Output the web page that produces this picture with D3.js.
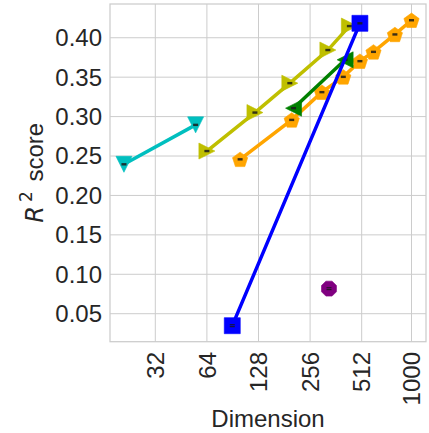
<!DOCTYPE html>
<html>
<head>
<meta charset="utf-8">
<script src="https://cdn.jsdelivr.net/npm/d3@7.9.0/dist/d3.min.js"></script>
<style>
  body { margin: 0; background: #fff; }
  svg { display: block; font-family: "Liberation Sans", Arial, sans-serif; }
</style>
</head>
<body>
<svg id="chart" width="429" height="433"></svg>
<script>
// x ticks (dimension, log2 axis)
const xTicks = [32, 64, 128, 256, 512, 1000];
const yTicks = [0.05, 0.10, 0.15, 0.20, 0.25, 0.30, 0.35, 0.40];

// one array pair per series
const cyanDims = [21, 55];
const cyanR2 = [0.2395, 0.2895];

const yellowDims = [64, 122, 195, 325, 434];
const yellowR2 = [0.2563, 0.3051, 0.3424, 0.3844, 0.4148];

const orangeDims = [100, 200, 300, 400, 500, 600, 800, 1000];
const orangeR2 = [0.2458, 0.2958, 0.331, 0.3504, 0.3703, 0.3821, 0.4042, 0.4222];

const greenDims = [205, 410];
const greenR2 = [0.3107, 0.372];

const blueDims = [90, 500];
const blueR2 = [0.0348, 0.4183];
const blueErr = [0.0012, 0];

const purpleDims = [330];
const purpleR2 = [0.0818];
const purpleErr = [0.0012];

const series = [
  { dims: orangeDims, r2: orangeR2, color: "#ffa500", marker: "pentagon" },
  { dims: yellowDims, r2: yellowR2, color: "#bfbf00", marker: "triRight" },
  { dims: greenDims, r2: greenR2, color: "#008000", marker: "triLeft" },
  { dims: cyanDims, r2: cyanR2, color: "#00bfbf", marker: "triDown" },
  { dims: blueDims, r2: blueR2, err: blueErr, color: "#0000ff", marker: "square" },
  { dims: purpleDims, r2: purpleR2, err: purpleErr, color: "#800080", marker: "octagon" }
];

const plotL = 110, plotR = 426, plotT = 4, plotB = 341.7;

const x = d3.scaleLog().base(2).domain([17.41, 1215]).range([plotL, plotR]);
const y = d3.scaleLinear().domain([0.0145, 0.4428]).range([plotB, plotT]);

const svg = d3.select("#chart");

// grid
const grid = svg.append("g").attr("stroke", "#cccccc").attr("stroke-width", 1);
xTicks.forEach(t => {
  grid.append("line").attr("x1", x(t)).attr("x2", x(t)).attr("y1", plotT).attr("y2", plotB);
});
yTicks.forEach(t => {
  grid.append("line").attr("x1", plotL).attr("x2", plotR).attr("y1", y(t)).attr("y2", y(t));
});

// frame
svg.append("rect")
  .attr("x", plotL).attr("y", plotT)
  .attr("width", plotR - plotL).attr("height", plotB - plotT)
  .attr("fill", "none").attr("stroke", "#cccccc").attr("stroke-width", 1.25);

// tick labels
svg.append("g").selectAll("text").data(yTicks).join("text")
  .attr("x", 102).attr("y", d => y(d)).attr("dy", "0.35em")
  .attr("text-anchor", "end").attr("font-size", 24).attr("fill", "#262626")
  .text(d => d.toFixed(2));

svg.append("g").selectAll("text").data(xTicks).join("text")
  .attr("transform", d => `translate(${x(d)},352) rotate(-90)`)
  .attr("dy", "0.36em")
  .attr("text-anchor", "end").attr("font-size", 24).attr("fill", "#262626")
  .text(d => d);

// axis titles
svg.append("text")
  .attr("x", (plotL + plotR) / 2).attr("y", 427)
  .attr("text-anchor", "middle").attr("font-size", 24).attr("fill", "#262626")
  .text("Dimension");

const yl = svg.append("text")
  .attr("transform", `translate(43,${(plotT + plotB) / 2}) rotate(-90)`)
  .attr("text-anchor", "middle").attr("font-size", 24).attr("fill", "#262626");
yl.append("tspan").attr("font-style", "italic").attr("font-family", "'DejaVu Sans', sans-serif").text("R");
yl.append("tspan").attr("font-size", 17).attr("dx", 4).attr("dy", -11).attr("font-family", "'DejaVu Sans', sans-serif").text("2");
yl.append("tspan").attr("dx", 3).attr("dy", 11).text(" score");

// marker shapes
function markerPath(type) {
  const p = d3.path();
  const pts = [];
  if (type === "square") {
    const s = 8;
    pts.push([-s, -s], [s, -s], [s, s], [-s, s]);
  } else if (type === "triDown") {
    pts.push([-8, -8], [8, -8], [0, 8]);
  } else if (type === "triRight") {
    pts.push([-8, -8], [8, 0], [-8, 8]);
  } else if (type === "triLeft") {
    pts.push([8, -8], [-8, 0], [8, 8]);
  } else if (type === "pentagon") {
    const r = 8;
    for (let i = 0; i < 5; i++) {
      const a = -Math.PI / 2 + i * 2 * Math.PI / 5;
      pts.push([r * Math.cos(a), r * Math.sin(a) + 0.8]);
    }
  } else if (type === "octagon") {
    const r = 8.1;
    for (let i = 0; i < 8; i++) {
      const a = Math.PI / 8 + i * Math.PI / 4;
      pts.push([r * Math.cos(a), r * Math.sin(a)]);
    }
  }
  pts.forEach((q, i) => i ? p.lineTo(q[0], q[1]) : p.moveTo(q[0], q[1]));
  p.closePath();
  return p.toString();
}

const line = d3.line().x(d => x(d[0])).y(d => y(d[1]));

series.forEach(s => {
  const pts = s.dims.map((d, i) => [d, s.r2[i], s.err ? s.err[i] : 0]);
  const g = svg.append("g");
  if (pts.length > 1) {
    g.append("path")
      .attr("d", line(pts))
      .attr("fill", "none").attr("stroke", s.color)
      .attr("stroke-width", 3.5).attr("stroke-linecap", "round");
  }
  g.selectAll("path.mk").data(pts).join("path")
    .attr("class", "mk")
    .attr("transform", d => `translate(${x(d[0])},${y(d[1])})`)
    .attr("d", markerPath(s.marker))
    .attr("fill", s.color).attr("stroke", s.color).attr("stroke-opacity", 0.6).attr("stroke-width", 1);
  // tiny error bar caps
  pts.forEach(d => {
    const caps = d[2] > 0 ? [d[1] - d[2], d[1] + d[2]] : [d[1]];
    caps.forEach(c => {
      g.append("rect")
        .attr("x", x(d[0]) - 2.5).attr("y", y(c) - (caps.length > 1 ? 0.6 : 1.2))
        .attr("width", 5).attr("height", caps.length > 1 ? 1.2 : 2.4)
        .attr("fill", "#1a1a1a").attr("opacity", 0.85);
    });
  });
});
</script>
</body>
</html>
